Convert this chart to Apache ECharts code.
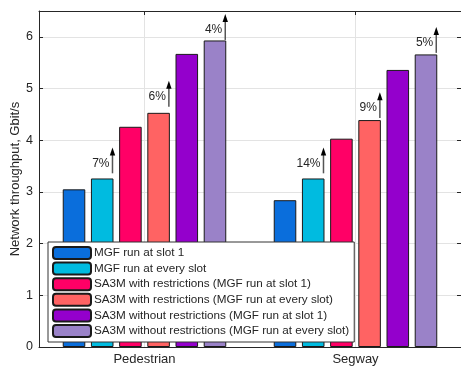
<!DOCTYPE html>
<html>
<head>
<meta charset="utf-8">
<script src="https://cdn.jsdelivr.net/npm/echarts@6/dist/echarts.min.js"></script>
<style>html,body{margin:0;padding:0;background:#fff}#c{width:461px;height:369px}</style>
</head>
<body>
<div id="c"></div>
<script>
const categories = ['Pedestrian', 'Segway'];
const seriesNames = [
  'MGF run at slot 1',
  'MGF run at every slot',
  'SA3M with restrictions (MGF run at slot 1)',
  'SA3M with restrictions (MGF run at every slot)',
  'SA3M without restrictions (MGF run at slot 1)',
  'SA3M without restrictions (MGF run at every slot)'
];
const mgfSlot1 = [3.05, 2.84];
const mgfEvery = [3.26, 3.26];
const sa3mRestrSlot1 = [4.26, 4.03];
const sa3mRestrEvery = [4.53, 4.39];
const sa3mFreeSlot1 = [5.67, 5.36];
const sa3mFreeEvery = [5.93, 5.66];
const yTicks = [0, 1, 2, 3, 4, 5, 6];
const yAxisTitle = 'Network throughput, Gbit/s';
// annotations: [category index, bar index, arrow base value, label]
const annotCat = [0, 0, 0, 1, 1, 1];
const annotBar = [1, 3, 5, 1, 3, 5];
const annotBase = [3.36, 4.65, 5.94, 3.36, 4.43, 5.69];
const annotLabel = ['7%', '6%', '4%', '14%', '9%', '5%'];

const colors = ['#0a6edc', '#00bbe0', '#ff0066', '#ff6363', '#9400cc', '#9a82c8'];
const values = [mgfSlot1, mgfEvery, sa3mRestrSlot1, sa3mRestrEvery, sa3mFreeSlot1, sa3mFreeEvery];
const FONT = 'Liberation Sans, Arial, Helvetica, sans-serif';
const TXT = '#262626';
const CAT_GAP = 0.225, BAR_GAP = 0.25, NBARS = 6;
const GRID = { left: 39, right: 0, top: 11, bottom: 22 };

const barSeries = values.map((v, i) => ({
  name: seriesNames[i],
  type: 'bar',
  data: v,
  barGap: (BAR_GAP * 100) + '%',
  barCategoryGap: (CAT_GAP * 100) + '%',
  itemStyle: { color: colors[i], borderColor: '#1a1a1a', borderWidth: 1 },
  z: 2
}));

const annotData = annotCat.map((c, i) => [c, annotBase[i], annotBar[i], annotLabel[i]]);

const chart = echarts.init(document.getElementById('c'), null, { renderer: 'canvas' });
chart.setOption({
  animation: false,
  backgroundColor: '#fff',
  textStyle: { fontFamily: FONT },
  grid: { left: GRID.left, right: GRID.right, top: GRID.top, bottom: GRID.bottom, containLabel: false, outerBoundsMode: 'none' },
  graphic: [{
    type: 'text',
    x: GRID.left - 24,
    y: GRID.top + (369 - GRID.top - GRID.bottom) / 2,
    rotation: Math.PI / 2,
    style: { text: yAxisTitle, font: '13px ' + FONT, fill: TXT, align: 'center', verticalAlign: 'middle' }
  }],
  legend: {
    data: seriesNames,
    orient: 'vertical',
    left: 48, top: 242,
    itemWidth: 38, itemHeight: 12, itemGap: 1.6,
    padding: [4, 5, 4, 4],
    backgroundColor: '#fff',
    borderColor: '#333', borderWidth: 1,
    selectedMode: false,
    textStyle: { fontFamily: FONT, fontSize: 11.7, color: TXT, lineHeight: 12, padding: [0, 0, 0, -2] },
    z: 10
  },
  xAxis: [{
    type: 'category',
    data: categories,
    position: 'bottom',
    axisLine: { lineStyle: { color: TXT, width: 1 } },
    axisTick: { inside: true, alignWithLabel: true, length: 4, lineStyle: { color: TXT } },
    axisLabel: { fontFamily: FONT, fontSize: 13, color: TXT, margin: 6 },
    splitLine: { show: false }
  }, {
    type: 'category',
    data: ['0.5', '1', '1.5', '2', '2.5'],
    boundaryGap: false,
    position: 'top',
    axisLine: { show: true, onZero: false, lineStyle: { color: TXT, width: 1 } },
    axisTick: { show: true, inside: true, length: 4, interval: (idx) => idx === 1 || idx === 3, lineStyle: { color: TXT } },
    axisLabel: { show: false },
    splitLine: { show: true, interval: (idx) => idx === 1 || idx === 3, lineStyle: { color: '#e3e3e3', width: 1 } }
  }],
  yAxis: [{
    type: 'value',
    min: 0, max: 6.5, interval: 1,
    axisLine: { show: true, lineStyle: { color: TXT, width: 1 } },
    axisTick: { show: true, inside: true, length: 4, lineStyle: { color: TXT } },
    axisLabel: { fontFamily: FONT, fontSize: 12.5, color: TXT, margin: 6,
      formatter: (v) => yTicks.indexOf(v) >= 0 ? String(v) : '' },
    splitLine: { show: true, lineStyle: { color: '#e3e3e3', width: 1 } }
  }, {
    type: 'value',
    min: 0, max: 6.5, interval: 1,
    position: 'right',
    axisLine: { show: true, lineStyle: { color: TXT, width: 1 } },
    axisTick: { show: true, inside: true, length: 4, lineStyle: { color: TXT } },
    axisLabel: { show: false },
    splitLine: { show: false }
  }],
  series: barSeries.concat([{
    type: 'custom',
    name: 'annotations',
    xAxisIndex: 0, yAxisIndex: 0,
    data: annotData,
    z: 5,
    clip: false,
    encode: { x: 0, y: 1 },
    renderItem: function (params, api) {
      const cat = api.value(0);
      const base = api.value(1);
      const bi = api.value(2);
      const label = annotData[params.dataIndex][3];
      const p0 = api.coord([cat, base]);
      const p1 = api.coord([cat, base + 0.5]);
      const band = api.size([1, 0])[0];
      const total = band * (1 - CAT_GAP);
      const w = total / (NBARS + (NBARS - 1) * BAR_GAP);
      const barLeft = p0[0] - total / 2 + bi * w * (1 + BAR_GAP);
      const x = barLeft + w - 1;
      const yb = p0[1], yt = p1[1];
      return {
        type: 'group',
        children: [
          { type: 'line', shape: { x1: x, y1: yb, x2: x, y2: yt + 6 },
            style: { stroke: '#555', lineWidth: 1.5 } },
          { type: 'polygon', shape: { points: [[x, yt], [x - 2.7, yt + 8], [x + 2.7, yt + 8]] },
            style: { fill: '#000' } },
          { type: 'text', x: x - 3, y: yb - 10,
            style: { text: label, fill: TXT, font: '12px ' + FONT, align: 'right', verticalAlign: 'middle' } }
        ]
      };
    }
  }])
});
</script>
</body>
</html>
